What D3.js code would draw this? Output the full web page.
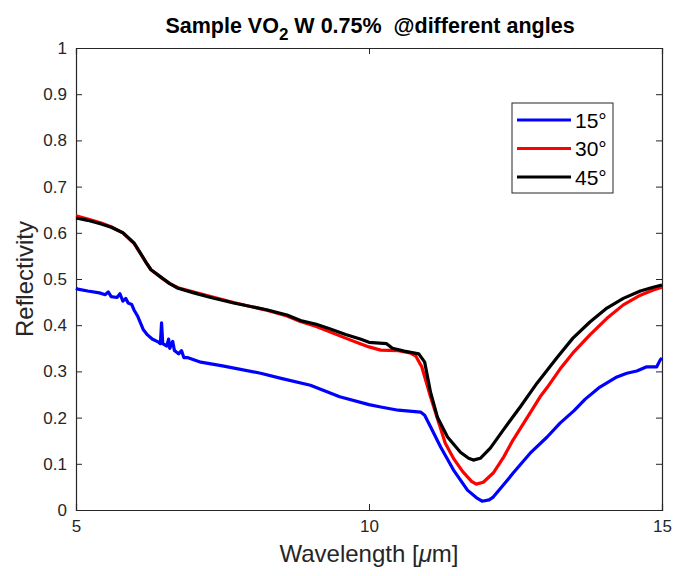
<!DOCTYPE html>
<html><head><meta charset="utf-8">
<script src="https://cdn.jsdelivr.net/npm/d3@7"></script>
<style>body{margin:0;background:#fff}text{font-family:"Liberation Sans",Arial,Helvetica,sans-serif}</style>
</head><body><svg id="c" width="676" height="576"></svg>
<script>
const xTicks = [5, 10, 15];
const yTicks = [0, 0.1, 0.2, 0.3, 0.4, 0.5, 0.6, 0.7, 0.8, 0.9, 1];
const seriesNames = ["15°", "30°", "45°"];
const seriesColors = ["#0000ff", "#ff0000", "#000000"];

const wl15 = [5.0,5.03,5.2,5.4,5.5,5.55,5.6,5.7,5.75,5.8,5.85,5.89,5.95,5.99,6.05,6.1,6.15,6.22,6.3,6.4,6.44,6.46,6.48,6.55,6.58,6.6,6.65,6.68,6.75,6.8,6.84,6.9,7.13,7.5,8.15,8.5,9.0,9.5,10.0,10.2,10.5,10.88,10.95,11.05,11.22,11.44,11.68,11.85,11.93,12.05,12.12,12.3,12.46,12.75,13.04,13.26,13.5,13.69,13.94,14.23,14.4,14.57,14.74,14.91,14.97,15.0];
const r15 = [0.48,0.478,0.474,0.47,0.466,0.472,0.462,0.46,0.468,0.452,0.458,0.448,0.445,0.433,0.42,0.405,0.39,0.379,0.37,0.364,0.36,0.405,0.36,0.355,0.37,0.35,0.365,0.345,0.338,0.345,0.33,0.33,0.32,0.312,0.296,0.285,0.27,0.245,0.228,0.223,0.216,0.212,0.205,0.18,0.137,0.087,0.043,0.025,0.019,0.022,0.028,0.055,0.08,0.123,0.158,0.188,0.215,0.24,0.266,0.288,0.296,0.301,0.31,0.31,0.325,0.329];

const wl30 = [5.0,5.2,5.43,5.6,5.8,5.99,6.1,6.2,6.28,6.45,6.6,6.74,7.01,7.3,7.69,8.0,8.27,8.6,8.83,9.1,9.34,9.6,9.85,10.0,10.2,10.5,10.7,10.8,10.9,11.05,11.2,11.3,11.45,11.6,11.75,11.83,11.95,12.12,12.3,12.46,12.75,12.92,13.04,13.26,13.48,13.77,14.06,14.34,14.63,14.85,15.0];
const r30 = [0.637,0.63,0.621,0.613,0.6,0.577,0.555,0.535,0.52,0.503,0.49,0.481,0.472,0.462,0.449,0.44,0.432,0.42,0.408,0.397,0.385,0.372,0.36,0.353,0.346,0.345,0.34,0.333,0.31,0.245,0.185,0.145,0.11,0.083,0.062,0.056,0.06,0.08,0.115,0.152,0.21,0.245,0.265,0.305,0.34,0.379,0.415,0.444,0.465,0.476,0.482];

const wl45 = [5.0,5.2,5.43,5.6,5.8,5.99,6.1,6.2,6.28,6.45,6.6,6.74,7.01,7.3,7.69,8.0,8.27,8.6,8.83,9.1,9.34,9.6,9.85,10.0,10.3,10.4,10.6,10.85,10.95,11.05,11.17,11.34,11.56,11.7,11.78,11.9,12.07,12.29,12.58,12.87,13.21,13.48,13.77,14.06,14.34,14.63,14.85,15.0];
const r45 = [0.632,0.627,0.619,0.612,0.6,0.578,0.556,0.535,0.52,0.504,0.49,0.48,0.47,0.46,0.448,0.44,0.433,0.422,0.41,0.402,0.392,0.38,0.37,0.363,0.36,0.35,0.344,0.338,0.32,0.255,0.2,0.158,0.125,0.112,0.108,0.112,0.134,0.173,0.223,0.275,0.33,0.372,0.407,0.437,0.458,0.474,0.482,0.487];

const svg = d3.select("#c");
const L = 76, R = 662, T = 48, B = 510;
const x = d3.scaleLinear().domain([5, 15]).range([L, R]);
const y = d3.scaleLinear().domain([0, 1]).range([B, T]);
const axCol = "#262626";

// Axes
const gx = svg.append("g").attr("transform", `translate(0,${B})`)
  .call(d3.axisBottom(x).tickValues(xTicks).tickSize(-6).tickPadding(10).tickFormat(d3.format("d")));
const gxt = svg.append("g").attr("transform", `translate(0,${T})`)
  .call(d3.axisTop(x).tickValues(xTicks).tickSize(-6).tickFormat(""));
const gy = svg.append("g").attr("transform", `translate(${L},0)`)
  .call(d3.axisLeft(y).tickValues(yTicks).tickSize(-6).tickPadding(9).tickFormat(d => d === 0 || d === 1 ? String(d) : d3.format(".1f")(d)));
const gyr = svg.append("g").attr("transform", `translate(${R},0)`)
  .call(d3.axisRight(y).tickValues(yTicks).tickSize(-6).tickFormat(""));
[gx, gxt, gy, gyr].forEach(g => {
  g.select(".domain").attr("stroke", axCol).attr("stroke-width", 1.2);
  g.selectAll(".tick line").attr("stroke", axCol).attr("stroke-width", 1);
  g.selectAll(".tick text").attr("fill", axCol).style("font-size", "17px").style("font-family", '"Liberation Sans",Arial,sans-serif');
});
gx.selectAll(".tick text").attr("dy", "0.71em");

// Lines
const data = [[wl15, r15], [wl30, r30], [wl45, r45]];
const line = d3.line().x(d => x(d[0])).y(d => y(d[1]));
data.forEach(([w, r], i) => {
  svg.append("path").datum(w.map((v, k) => [v, r[k]]))
    .attr("d", line).attr("fill", "none").attr("stroke", seriesColors[i])
    .attr("stroke-width", 3.2).attr("stroke-linejoin", "round");
});

// Title
const title = svg.append("text").attr("x", 370).attr("y", 33).attr("text-anchor", "middle")
  .style("font-size", "21.5px").style("font-weight", "bold").attr("fill", "#000");
title.append("tspan").text("Sample VO");
title.append("tspan").text("2").attr("dy", 7).style("font-size", "17px");
title.append("tspan").text(" W 0.75%\u00a0\u00a0@different angles").attr("dy", -7);

// Axis labels
svg.append("text").attr("x", 369).attr("y", 562).attr("text-anchor", "middle")
  .style("font-size", "24px").attr("fill", axCol)
  .html('Wavelength [<tspan font-style="italic">μ</tspan>m]');
svg.append("text").attr("transform", "translate(33,279) rotate(-90)").attr("text-anchor", "middle")
  .style("font-size", "24px").attr("fill", axCol).text("Reflectivity");

// Legend
const lg = svg.append("g");
lg.append("rect").attr("x", 512).attr("y", 103).attr("width", 101).attr("height", 90)
  .attr("fill", "#fff").attr("stroke", axCol).attr("stroke-width", 1);
seriesNames.forEach((n, i) => {
  const yy = 120 + i * 28.5;
  lg.append("line").attr("x1", 517).attr("x2", 571).attr("y1", yy).attr("y2", yy)
    .attr("stroke", seriesColors[i]).attr("stroke-width", 3.2);
  lg.append("text").attr("x", 575).attr("y", yy + 7.5).style("font-size", "21px").attr("fill", "#000").text(n);
});
</script></body></html>
